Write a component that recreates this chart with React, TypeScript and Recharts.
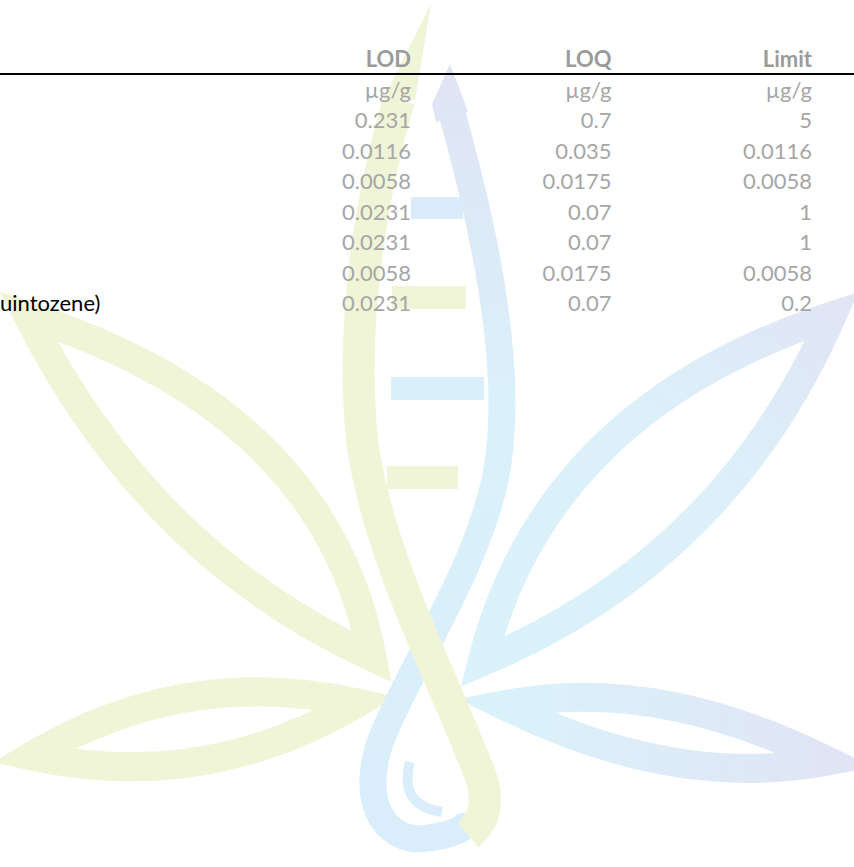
import { ScatterChart, Scatter, XAxis, YAxis, ReferenceLine, Customized } from "recharts";

// table contents
const columns = ["LOD", "LOQ", "Limit"];
const units = ["µg/g", "µg/g", "µg/g"];
const analytes = ["", "", "", "", "", "", "uintozene)"];
const lod = [0.231, 0.0116, 0.0058, 0.0231, 0.0231, 0.0058, 0.0231];
const loq = [0.7, 0.035, 0.0175, 0.07, 0.07, 0.0175, 0.07];
const limit = [5, 0.0116, 0.0058, 1, 1, 0.0058, 0.2];

const FONT = "Lato, 'DejaVu Sans', sans-serif";

const headerData = columns.map((c, i) => ({ x: i + 2, y: 0, text: c }));
const unitData = units.map((u, i) => ({ x: i + 2, y: 1, text: u }));
const toCells = (vals: number[], col: number) =>
  vals.map((v, r) => ({ x: col, y: r + 2, text: String(v) }));
const labelData = analytes.map((a, r) => ({ x: 0, y: r + 2, text: a }));

const cellShape = (fill: string, weight: number | string, anchor: "start" | "end", dx = 0) =>
  (p: any) => (
    <text
      x={p.cx + dx}
      y={p.cy}
      textAnchor={anchor}
      fill={fill}
      fontSize={22}
      fontWeight={weight}
      fontFamily={FONT}
    >
      {p.payload.text}
    </text>
  );

// faint logo behind the table
function Watermark() {
  const yel = "#f0f5d8";
  return (
    <g>
      <defs>
        <linearGradient id="blueStrand" x1="0" y1="0" x2="0" y2="1">
          <stop offset="0" stopColor="#dfe5f5" />
          <stop offset="0.4" stopColor="#daf0fa" />
          <stop offset="1" stopColor="#d9eefa" />
        </linearGradient>
        <linearGradient id="blueLeaf" x1="0" y1="1" x2="1" y2="0">
          <stop offset="0" stopColor="#daf2fa" />
          <stop offset="0.6" stopColor="#dcf0f9" />
          <stop offset="1" stopColor="#e0e6f5" />
        </linearGradient>
        <linearGradient id="blueLow" x1="0" y1="0" x2="1" y2="0">
          <stop offset="0" stopColor="#daf2fa" />
          <stop offset="1" stopColor="#e0e5f5" />
        </linearGradient>
      </defs>
      <polygon points="431,4 383,100 415,100" fill={yel} />
      <polygon points="450,64 432,104 436,122 468,112 460,90" fill="#dfe5f5" />
      <g fill="none" strokeWidth={29} strokeLinejoin="miter" strokeMiterlimit={20}>
        <path d="M28 316 Q327 413 372 657 Q147 553 28 316 Z" stroke={yel} />
        <path d="M32 756 Q185 665 357 703 Q205 793 32 756 Z" stroke={yel} />
        <path d="M832 316 Q545 410 482 662 Q725 560 832 316 Z" stroke="url(#blueLeaf)" />
        <path d="M503 705 Q655 675 828 761 Q675 790 503 705 Z" stroke="url(#blueLow)" />
        <path
          d="M447 96 C480 210 518 370 495 480 C475 570 420 650 385 730 C355 800 385 845 428 838 C460 834 472 825 470 812"
          stroke="url(#blueStrand)"
          strokeWidth={27}
        />
        <path d="M410 762 Q398 805 442 812" stroke="#d9eefa" strokeWidth={10} />
        <path
          d="M399 100 C372 190 350 320 362 440 C378 560 445 680 482 780 Q492 815 468 835"
          stroke={yel}
          strokeWidth={32}
        />
      </g>
      <rect x={411} y={197} width={52} height={22} fill="#daecf9" />
      <rect x={392} y={286} width={74} height={23} fill={yel} />
      <rect x={391} y={377} width={93} height={23} fill="#d9f0fa" />
      <rect x={387} y={466} width={71} height={23} fill={yel} />
    </g>
  );
}

export default function App() {
  return (
    <div style={{ position: "absolute", left: 0, top: 0, background: "#fff" }}>
      <ScatterChart width={854} height={867} margin={{ top: 67, right: 42, bottom: 7, left: 10 }}>
        <Customized component={Watermark} />
        <XAxis type="number" dataKey="x" domain={[0, 4]} hide />
        <YAxis type="number" dataKey="y" domain={[0, 26]} reversed hide />
        <ReferenceLine
          ifOverflow="visible"
          segment={[
            { x: -0.05, y: 0.23 },
            { x: 4.21, y: 0.23 },
          ]}
          stroke="#000"
          strokeWidth={2}
        />
        <Scatter data={headerData} shape={cellShape("#9b9b9b", "bold", "end")} isAnimationActive={false} />
        <Scatter data={unitData} shape={cellShape("#a6a6a6", "normal", "end")} isAnimationActive={false} />
        <Scatter data={toCells(lod, 2)} shape={cellShape("#a6a6a6", "normal", "end")} isAnimationActive={false} />
        <Scatter data={toCells(loq, 3)} shape={cellShape("#a6a6a6", "normal", "end")} isAnimationActive={false} />
        <Scatter data={toCells(limit, 4)} shape={cellShape("#a6a6a6", "normal", "end")} isAnimationActive={false} />
        <Scatter data={labelData} shape={cellShape("#000", "normal", "start", -10)} isAnimationActive={false} />
      </ScatterChart>
    </div>
  );
}
